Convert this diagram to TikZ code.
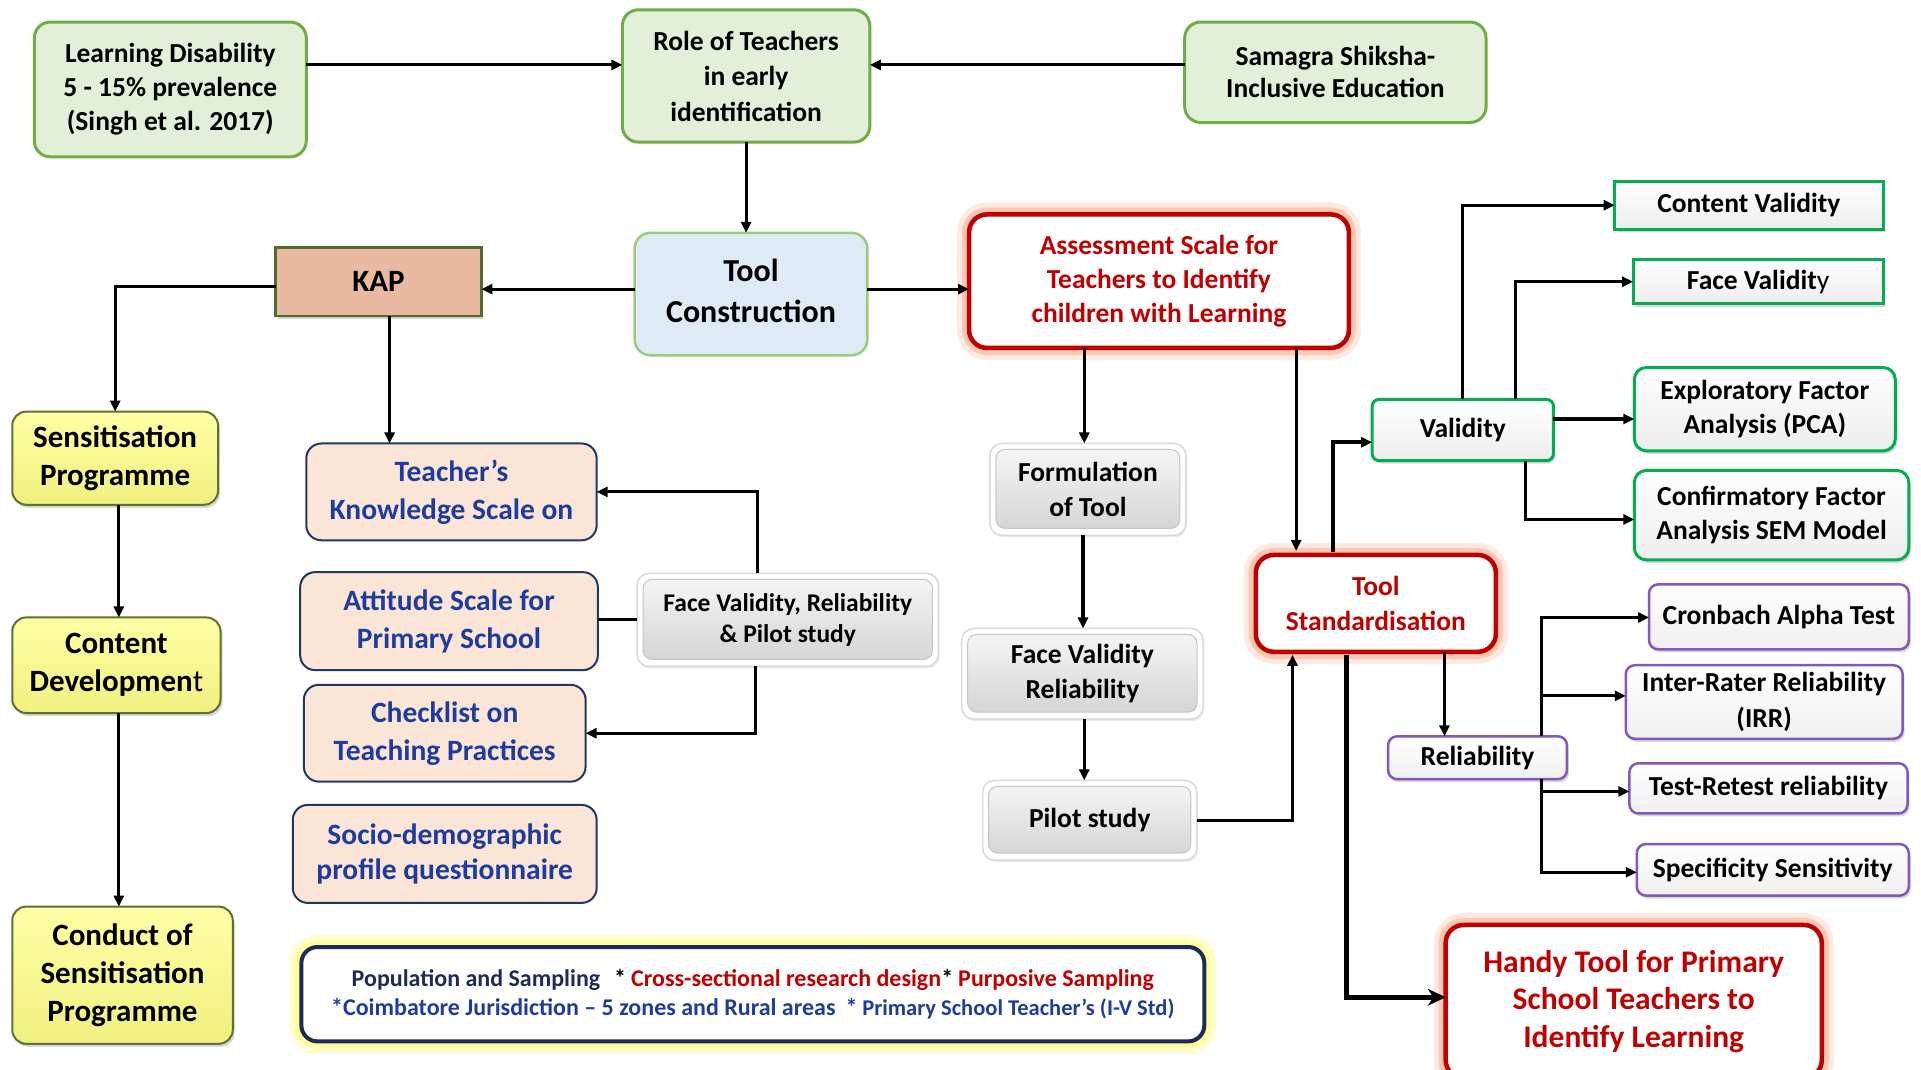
\documentclass[tikz,border=0pt]{standalone}
\usepackage{fontspec}
\setmainfont{Carlito}
\usetikzlibrary{arrows.meta,shadows,calc}
\definecolor{gfill}{HTML}{E2F0D9}
\definecolor{gborder}{HTML}{70AD47}
\definecolor{bluefill}{HTML}{DEEBF7}
\definecolor{tcborder}{HTML}{9CCB7C}
\definecolor{kapfill}{HTML}{E9B9A2}
\definecolor{kapborder}{HTML}{4F6B2E}
\definecolor{yelA}{HTML}{FFFFA6}
\definecolor{yelB}{HTML}{F0F080}
\definecolor{yborder}{HTML}{5B7332}
\definecolor{peach}{HTML}{FBE5D6}
\definecolor{navy}{HTML}{1F3864}
\definecolor{bluetxt}{HTML}{1E3C9E}
\definecolor{darkred}{HTML}{C00000}
\definecolor{glowred}{HTML}{FF8A5C}
\definecolor{vgreen}{HTML}{00B050}
\definecolor{purp}{HTML}{8457BE}
\definecolor{popnavy}{HTML}{1C2B5A}
\definecolor{glowyel}{HTML}{FFFF70}
\newcommand\fz[2]{\fontsize{#1}{#2}\selectfont\bfseries}
\newcommand\mybox[7]{%
  \pgfmathsetmacro\mbw{(#5-#3)*1.2251}%
  \pgfmathsetmacro\mbh{(#6-#4)*1.2251}%
  \node[#1, minimum width=\mbw pt, minimum height=\mbh pt] (#2) at ({(#3+#5)/2},{(#4+#6)/2}) {#7};%
}
\tikzset{
  box/.style={align=center, inner sep=0pt, outer sep=0pt},
  greenbox/.style={box, draw=gborder, fill=gfill, line width=3pt, rounded corners=16pt, font=\fz{27.5}{34}},
  tcbox/.style={box, draw=tcborder, fill=bluefill, line width=2.5pt, rounded corners=16pt, font=\fz{32}{40.5}},
  kapbox/.style={box, draw=kapborder, fill=kapfill, line width=2.5pt, font=\fz{31}{37}, drop shadow={shadow xshift=2pt, shadow yshift=-3pt, opacity=.35}},
  redbox/.style={box, draw=darkred, fill=white, line width=4.5pt, rounded corners=18pt, text=darkred, font=\fz{27.5}{33.7},
    preaction={draw=glowred, line width=24pt, opacity=.18}, preaction={draw=glowred, line width=14pt, opacity=.35}},
  yelbox/.style={box, draw=yborder, top color=yelA, bottom color=yelB, line width=2pt, rounded corners=14pt, font=\fz{31}{38}, drop shadow={shadow xshift=2pt, shadow yshift=-3pt, opacity=.3}},
  peachbox/.style={box, draw=navy, fill=peach, line width=2pt, rounded corners=15pt, text=bluetxt, font=\fz{29.5}{38}},
  graybox/.style={box, draw=gray!30, fill=white, line width=1.5pt, rounded corners=12pt, font=\fz{27.5}{35.5},
    drop shadow={shadow xshift=1pt, shadow yshift=-2pt, opacity=.15},
    path picture={\shadedraw[top color=gray!6, bottom color=gray!35, draw=gray!45, line width=1pt, rounded corners=9pt]
      ([shift={(6pt,-6pt)}]path picture bounding box.north west) rectangle ([shift={(-6pt,7pt)}]path picture bounding box.south east);}},
  vbox/.style={box, draw=vgreen, line width=3pt, top color=white, bottom color=gray!14, font=\fz{27.5}{34}, drop shadow={shadow xshift=2pt, shadow yshift=-3pt, opacity=.3}},
  pbox/.style={box, draw=purp, line width=2.5pt, rounded corners=9pt, top color=white, bottom color=gray!12, font=\fz{27.5}{34}, drop shadow={shadow xshift=2pt, shadow yshift=-3pt, opacity=.3}},
  popbox/.style={box, draw=popnavy, fill=white, line width=4pt, rounded corners=16pt, font=\fz{24}{29.5},
    preaction={draw=glowyel, line width=24pt, opacity=.35}, preaction={draw=glowyel, line width=13pt, opacity=.55}},
  conn/.style={draw=black, line width=3.1pt, -{Triangle[length=11pt,width=10pt]}},
  plain/.style={draw=black, line width=3.1pt},
  thickconn/.style={draw=black, line width=4.5pt, -{Stealth[length=18pt,width=17pt]}},
}
\begin{document}
\begin{tikzpicture}[x=1.2251pt, y=-1.2251pt]
\fill[white] (0,0) rectangle (1568,873);
\useasboundingbox (0,0) rectangle (1568,873);

% top row
\mybox{greenbox}{ld}{28}{18}{250}{128}{Learning Disability\\5 - 15\% prevalence\\(Singh et al. 2017)}
\mybox{greenbox, font=\fz{27.5}{35.5}}{role}{508}{8}{710}{116}{Role of Teachers\\in early\\identification}
\mybox{greenbox, font=\fz{27.5}{32}}{sam}{967}{18}{1213}{100}{Samagra Shiksha-\\Inclusive Education}

\mybox{tcbox}{tc}{518}{190}{708}{290}{\raisebox{8pt}{\begin{tabular}{@{}c@{}}Tool\\Construction\end{tabular}}}
\mybox{kapbox}{kap}{225}{202}{393}{258}{KAP}
\mybox{redbox}{as}{791}{175}{1101}{284}{Assessment Scale for\\Teachers to Identify\\children with Learning}

% left column
\mybox{yelbox}{sens}{10}{336}{178}{412}{Sensitisation\\Programme}
\mybox{yelbox}{cd}{10}{504}{180}{582}{Content\\Developmen{\mdseries t}}
\mybox{yelbox}{cs}{10}{740}{190}{852}{Conduct of\\Sensitisation\\Programme}

% KAP instruments
\mybox{peachbox}{tk}{250}{362}{487}{441}{Teacher’s\\Knowledge Scale on}
\mybox{peachbox}{at}{245}{467}{488}{547}{Attitude Scale for\\Primary School}
\mybox{peachbox}{cl}{248}{559}{478}{638}{Checklist on\\Teaching Practices}
\mybox{peachbox, font=\fz{29.5}{35.5}}{sd}{239}{657}{487}{737}{Socio-demographic\\profile questionnaire}

\mybox{graybox, font=\fz{25.5}{31}}{fvrp}{520}{468}{766}{544}{Face Validity, Reliability\\\& Pilot study}

% middle column
\mybox{graybox}{form}{808}{362}{968}{437}{Formulation\\of Tool}
\mybox{graybox, font=\fz{27.5}{35}}{fvr}{785}{513}{982}{587}{Face Validity\\Reliability}
\mybox{graybox}{pilot}{802}{637}{977}{702}{Pilot study}

\mybox{redbox, font=\fz{27.5}{35.5}}{ts}{1025}{453}{1221}{532}{Tool\\Standardisation}

% validity
\mybox{vbox, rounded corners=7pt}{val}{1120}{326}{1268}{376}{Validity}
\mybox{vbox}{cv}{1318}{148}{1537}{187}{Content Validity}
\mybox{vbox}{fv}{1333}{212}{1537}{248}{Face Validit{\mdseries y}}
\mybox{vbox, rounded corners=12pt}{efa}{1334}{300}{1547}{368}{Exploratory Factor\\Analysis (PCA)}
\mybox{vbox, rounded corners=12pt}{cfa}{1334}{384}{1558}{457}{Confirmatory Factor\\Analysis SEM Model}

% reliability
\mybox{pbox}{rel}{1133}{601}{1279}{636}{Reliability}
\mybox{pbox}{cron}{1346}{477}{1558}{530}{Cronbach Alpha Test}
\mybox{pbox, font=\fz{27.5}{35.5}}{irr}{1327}{543}{1553}{603}{Inter-Rater Reliability\\(IRR)}
\mybox{pbox}{trt}{1330}{623}{1557}{664}{Test-Retest reliability}
\mybox{pbox}{spec}{1336}{689}{1558}{731}{Specificity Sensitivity}

\mybox{redbox, font=\fz{31.5}{37.5}}{handy}{1180}{755}{1487}{880}{Handy Tool for Primary\\School Teachers to\\Identify Learning}

\mybox{popbox}{pop}{246}{773}{983}{850}{%
  \textcolor{popnavy}{Population and Sampling}\hspace{14pt}*\hspace{5pt}\textcolor{darkred}{Cross-sectional research design}*\hspace{5pt}\textcolor{darkred}{Purposive Sampling}\\
  \textcolor{bluetxt}{*Coimbatore Jurisdiction – 5 zones and Rural areas\hspace{10pt}*\hspace{5pt}{\fz{22.5}{29.5}Primary School Teacher’s (I-V Std)}}}

% connectors
\draw[conn] (ld.east |- 0,53) -- (role.west |- 0,53);
\draw[conn] (sam.west |- 0,53) -- (role.east |- 0,53);
\draw[conn] (role.south) -- (role.south |- tc.north);
\draw[conn] (tc.west |- 0,236) -- (kap.east |- 0,236);
\draw[conn] (tc.east |- 0,236) -- (as.west |- 0,236);
\draw[conn] (kap.west |- 0,234) -| (sens.north);
\draw[conn] (kap.south -| 318,0) -- (tk.north -| 318,0);
\draw[conn] (sens.south -| 97,0) -- (cd.north -| 97,0);
\draw[conn] (cd.south -| 97,0) -- (cs.north -| 97,0);
\draw[conn] (fvrp.north -| 618,0) |- (tk.east);
\draw[plain] (fvrp.west) -- (fvrp.west -| at.east);
\draw[conn] (fvrp.south -| 617,0) |- (cl.east);

\draw[conn] (as.south -| 885,0) -- (form.north -| 885,0);
\draw[conn] (as.south -| 1058,0) -- ([yshift=4pt]ts.north -| 1058,0);
\draw[conn] (form.south -| 884,0) -- (fvr.north -| 884,0);
\draw[conn] (fvr.south -| 885,0) -- (pilot.north -| 885,0);
\draw[conn] (pilot.east |- 0,670) -| ([yshift=-3pt]ts.south -| 1055,0);

\draw[conn, line width=4pt] ([yshift=3pt]ts.north -| 1088,0) |- (val.west |- 0,361);
\draw[conn] (val.north) |- (cv.west);
\draw[conn] (val.north -| 1237,0) |- (fv.west);
\draw[conn] (val.east |- 0,342) -- (efa.west |- 0,342);
\draw[conn] (val.south -| 1245,0) |- (cfa.west |- 0,424);

\draw[conn] (ts.south -| 1179,0) -- (rel.north -| 1179,0);
\coordinate (relN) at (rel.north -| 1258,0);
\coordinate (relS) at (rel.south -| 1258,0);
\draw[conn] (relN) |- (cron.west |- 0,504);
\draw[conn] (relN |- 0,568) -- (irr.west |- 0,568);
\draw[conn] (relS) |- (trt.west |- 0,646);
\draw[conn] (relS) |- (spec.west |- 0,712);
\draw[thickconn] ([yshift=-3pt]ts.south -| 1099,0) |- (handy.west |- 0,814);
\end{tikzpicture}
\end{document}
